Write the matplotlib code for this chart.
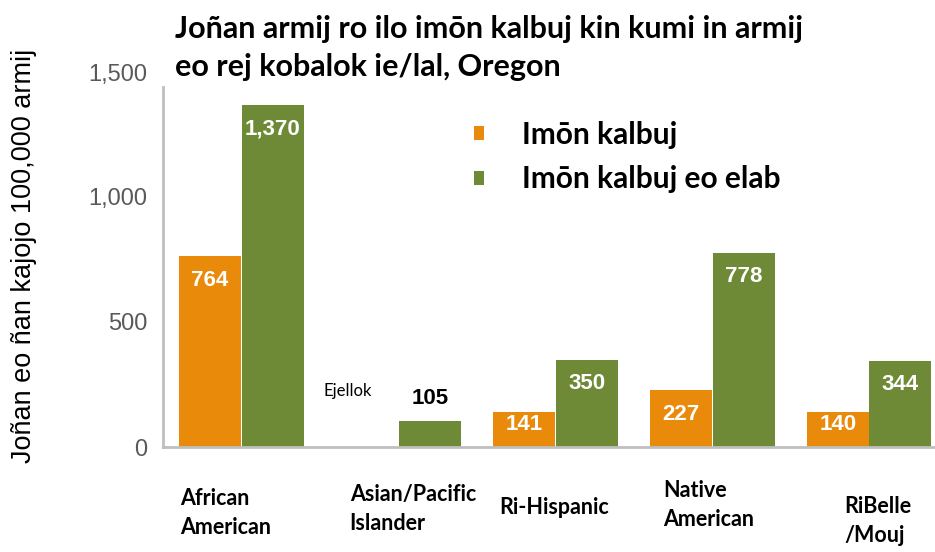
import matplotlib
matplotlib.use("Agg")
import matplotlib.pyplot as plt
import matplotlib.transforms as mtransforms
import numpy as np

# data
categories = ["African\nAmerican", "Asian/Pacific\nIslander", "Ri-Hispanic",
              "Native\nAmerican", "RiBelle\n/Mouj"]
imon_kalbuj = [764, np.nan, 141, 227, 140]
imon_kalbuj_elab = [1370, 105, 350, 778, 344]
series_names = ["Imōn kalbuj", "Imōn kalbuj eo elab"]
missing_note = "Ejellok"
yticks = [0, 500, 1000, 1500]
title = "Joñan armij ro ilo imōn kalbuj kin kumi in armij\neo rej kobalok ie/lal, Oregon"
ylabel = "Joñan eo ñan kajojo 100,000 armij"

orange = "#E98A0B"
green = "#6F8A36"
calibri = ["Lato", "DejaVu Sans"]
arial = ["Liberation Sans", "DejaVu Sans"]

fig = plt.figure(figsize=(9.35, 5.52), dpi=100)
ax = fig.add_axes([163/935, 1-447/552, (935-163)/935, (447-72)/552])

x = np.arange(len(categories))
w = 0.395
b1 = ax.bar(x - 0.2, imon_kalbuj, w, color=orange, label=series_names[0])
b2 = ax.bar(x + 0.2, imon_kalbuj_elab, w, color=green, label=series_names[1])

ax.set_xlim(-0.5, 4.42)
ax.set_ylim(0, 1500)
ax.set_yticks(yticks)
ax.set_yticklabels([f"{t:,}" for t in yticks], family=arial, fontsize=17, color="#595959")
ax.set_xticks([])
ax.tick_params(axis="y", length=0, pad=11)
for s in ["top", "right"]:
    ax.spines[s].set_visible(False)
for s in ["left", "bottom"]:
    ax.spines[s].set_color("#BFBFBF")
    ax.spines[s].set_linewidth(2)
ax.spines["left"].set_bounds(0, 1440)

# value labels
def px2pt(p):
    return p * 72 / 100

for bars, vals in [(b1, imon_kalbuj), (b2, imon_kalbuj_elab)]:
    for rect, v in zip(bars, vals):
        if np.isnan(v):
            continue
        cx = rect.get_x() + rect.get_width() / 2
        if v < 120:
            ax.annotate(f"{v:,}", (cx, v), xytext=(0, px2pt(22)), textcoords="offset points",
                        ha="center", va="center", fontsize=16, fontweight="bold",
                        color="black", family=arial)
        else:
            off = 13 if v < 200 else 24
            ax.annotate(f"{v:,}", (cx, v), xytext=(0, -px2pt(off)), textcoords="offset points",
                        ha="center", va="center", fontsize=16, fontweight="bold",
                        color="white", family=arial)

# missing note
ax.text(1 - 0.48, 224, missing_note, fontsize=12, family=calibri, ha="left", va="center")

# category labels
trans = mtransforms.blended_transform_factory(ax.transData, fig.transFigure)
dx = [-0.388, -0.31, -0.36, -0.31, -0.16]
ytop = [488, 484, 497, 480, 496]
for i, lab in enumerate(categories):
    ax.text(i + dx[i], 1 - ytop[i]/552, lab, transform=trans, ha="left", va="top",
            fontsize=15.5, fontweight="bold", family=calibri, linespacing=1.5)

# title
fig.text(175/935, 1 - 15/552, title, ha="left", va="top", fontsize=22,
         fontweight="bold", family=calibri, linespacing=1.45)

# y label
fig.text(24/935, 1 - 256/552, ylabel, rotation=90, ha="center", va="center",
         fontsize=19.5, family=arial)

# legend
leg = ax.legend(loc="upper left", bbox_to_anchor=(459/935, 1 - 106/552),
                bbox_transform=fig.transFigure, frameon=False, borderpad=0,
                handlelength=0.35, handleheight=0.35, handletextpad=1.25,
                labelspacing=0.55, prop={"family": calibri, "weight": "bold", "size": 21.5})

fig.savefig("out.png", dpi=100)
